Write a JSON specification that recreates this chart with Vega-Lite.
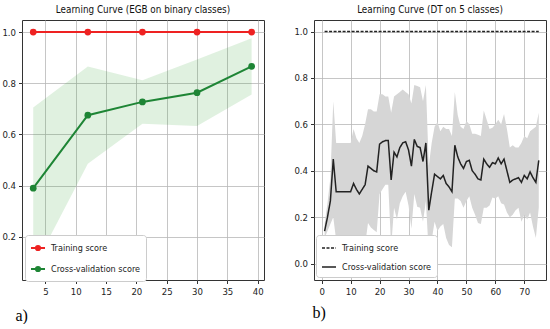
{
  "$schema": "https://vega.github.io/schema/vega-lite/v6.json",
  "background": "white",
  "padding": {"left": 1, "top": 4, "right": 0, "bottom": 0},
  "spacing": 28,
  "config": {
    "font": "Liberation Sans Narrow, DejaVu Sans Condensed, sans-serif",
    "view": {"stroke": "#333333", "strokeWidth": 1},
    "axis": {"domain": false, "tickColor": "#333333", "tickSize": 3.5, "labelFontSize": 9.5, "labelColor": "#222222", "labelPadding": 3, "labelOverlap": false, "gridColor": "#b8b8b8", "gridWidth": 0.8},
    "title": {"fontSize": 9.8, "fontWeight": "normal", "color": "#111111", "offset": 5},
    "legend": {"labelFontSize": 9, "labelColor": "#222222", "fillColor": "white", "strokeColor": "#cccccc", "padding": 5, "cornerRadius": 3, "rowPadding": 6, "labelOffset": 5}
  },
  "resolve": {"scale": {"color": "independent", "strokeDash": "independent"}, "legend": {"color": "independent", "strokeDash": "independent"}},
  "hconcat": [
    {
      "width": 242,
      "height": 260,
      "title": "Learning Curve (EGB on binary classes)",
      "data": {"values": [
        {"x": 3, "Training score": 1.0, "Cross-validation score": 0.39, "lo": 0.075, "hi": 0.705},
        {"x": 12, "Training score": 1.0, "Cross-validation score": 0.675, "lo": 0.485, "hi": 0.865},
        {"x": 21, "Training score": 1.0, "Cross-validation score": 0.727, "lo": 0.642, "hi": 0.812},
        {"x": 30, "Training score": 1.0, "Cross-validation score": 0.763, "lo": 0.633, "hi": 0.893},
        {"x": 39, "Training score": 1.0, "Cross-validation score": 0.866, "lo": 0.756, "hi": 0.976}
      ]},
      "transform": [{"fold": ["Training score", "Cross-validation score"], "as": ["series", "score"]}],
      "encoding": {
        "x": {"field": "x", "type": "quantitative", "scale": {"domain": [1.15, 41.04], "nice": false, "zero": false},
              "axis": {"tickCount": 8, "labelOverlap": false, "grid": true, "title": "a)", "titleFont": "Liberation Serif", "titleFontSize": 16, "titleFontWeight": "normal", "titleColor": "#000000", "titleAnchor": "start", "titleAlign": "left", "titleBaseline": "middle", "titleX": -7, "titleY": 35}}
      },
      "layer": [
        {
          "transform": [{"filter": "datum.series === 'Cross-validation score'"}],
          "mark": {"type": "area", "color": "#2ca02c", "opacity": 0.15},
          "encoding": {
            "y": {"field": "lo", "type": "quantitative", "scale": {"domain": [0.031, 1.047], "nice": false, "zero": false},
                  "axis": {"tickCount": 5, "labelOverlap": false, "format": ".1f", "grid": true, "title": null}},
            "y2": {"field": "hi"}
          }
        },
        {
          "mark": {"type": "line", "strokeWidth": 2, "point": {"filled": true, "size": 45}},
          "encoding": {
            "y": {"field": "score", "type": "quantitative"},
            "color": {"field": "series", "type": "nominal",
                      "scale": {"domain": ["Training score", "Cross-validation score"], "range": ["#ee2222", "#1e8535"]},
                      "legend": {"title": null, "orient": "none", "legendX": 3, "legendY": 215, "symbolType": "M-1,0H1M-0.3,0A0.3,0.3,0,1,1,0.3,0A0.3,0.3,0,1,1,-0.3,0", "symbolSize": 196, "symbolStrokeWidth": 2}}
          }
        }
      ]
    },
    {
      "width": 232,
      "height": 260,
      "title": "Learning Curve (DT on 5 classes)",
      "data": {"values": [
        {"x": 1, "Training score": 1.0, "Cross-validation score": 0.14, "lo": 0.11, "hi": 0.17},
        {"x": 2, "Training score": 1.0, "Cross-validation score": 0.20, "lo": 0.14, "hi": 0.26},
        {"x": 3, "Training score": 1.0, "Cross-validation score": 0.27, "lo": 0.17, "hi": 0.37},
        {"x": 4, "Training score": 1.0, "Cross-validation score": 0.45, "lo": 0.20, "hi": 0.70},
        {"x": 5, "Training score": 1.0, "Cross-validation score": 0.31, "lo": 0.10, "hi": 0.52},
        {"x": 6, "Training score": 1.0, "Cross-validation score": 0.31, "lo": 0.10, "hi": 0.52},
        {"x": 7, "Training score": 1.0, "Cross-validation score": 0.31, "lo": 0.10, "hi": 0.52},
        {"x": 8, "Training score": 1.0, "Cross-validation score": 0.31, "lo": 0.10, "hi": 0.52},
        {"x": 9, "Training score": 1.0, "Cross-validation score": 0.31, "lo": 0.10, "hi": 0.52},
        {"x": 10, "Training score": 1.0, "Cross-validation score": 0.31, "lo": 0.10, "hi": 0.52},
        {"x": 11, "Training score": 1.0, "Cross-validation score": 0.345, "lo": 0.11, "hi": 0.58},
        {"x": 12, "Training score": 1.0, "Cross-validation score": 0.32, "lo": 0.10, "hi": 0.54},
        {"x": 13, "Training score": 1.0, "Cross-validation score": 0.30, "lo": 0.08, "hi": 0.52},
        {"x": 14, "Training score": 1.0, "Cross-validation score": 0.32, "lo": 0.09, "hi": 0.55},
        {"x": 15, "Training score": 1.0, "Cross-validation score": 0.34, "lo": 0.08, "hi": 0.60},
        {"x": 16, "Training score": 1.0, "Cross-validation score": 0.42, "lo": 0.175, "hi": 0.665},
        {"x": 17, "Training score": 1.0, "Cross-validation score": 0.41, "lo": 0.155, "hi": 0.665},
        {"x": 18, "Training score": 1.0, "Cross-validation score": 0.40, "lo": 0.145, "hi": 0.655},
        {"x": 19, "Training score": 1.0, "Cross-validation score": 0.395, "lo": 0.135, "hi": 0.655},
        {"x": 20, "Training score": 1.0, "Cross-validation score": 0.515, "lo": 0.30, "hi": 0.73},
        {"x": 21, "Training score": 1.0, "Cross-validation score": 0.525, "lo": 0.32, "hi": 0.73},
        {"x": 22, "Training score": 1.0, "Cross-validation score": 0.53, "lo": 0.34, "hi": 0.72},
        {"x": 23, "Training score": 1.0, "Cross-validation score": 0.53, "lo": 0.34, "hi": 0.72},
        {"x": 24, "Training score": 1.0, "Cross-validation score": 0.36, "lo": 0.07, "hi": 0.65},
        {"x": 25, "Training score": 1.0, "Cross-validation score": 0.48, "lo": 0.24, "hi": 0.72},
        {"x": 26, "Training score": 1.0, "Cross-validation score": 0.46, "lo": 0.19, "hi": 0.73},
        {"x": 27, "Training score": 1.0, "Cross-validation score": 0.50, "lo": 0.26, "hi": 0.74},
        {"x": 28, "Training score": 1.0, "Cross-validation score": 0.52, "lo": 0.29, "hi": 0.75},
        {"x": 29, "Training score": 1.0, "Cross-validation score": 0.525, "lo": 0.31, "hi": 0.74},
        {"x": 30, "Training score": 1.0, "Cross-validation score": 0.49, "lo": 0.25, "hi": 0.73},
        {"x": 31, "Training score": 1.0, "Cross-validation score": 0.42, "lo": 0.15, "hi": 0.69},
        {"x": 32, "Training score": 1.0, "Cross-validation score": 0.535, "lo": 0.30, "hi": 0.77},
        {"x": 33, "Training score": 1.0, "Cross-validation score": 0.505, "lo": 0.245, "hi": 0.765},
        {"x": 34, "Training score": 1.0, "Cross-validation score": 0.50, "lo": 0.24, "hi": 0.76},
        {"x": 35, "Training score": 1.0, "Cross-validation score": 0.44, "lo": 0.18, "hi": 0.70},
        {"x": 36, "Training score": 1.0, "Cross-validation score": 0.52, "lo": 0.27, "hi": 0.77},
        {"x": 37, "Training score": 1.0, "Cross-validation score": 0.23, "lo": 0.04, "hi": 0.42},
        {"x": 38, "Training score": 1.0, "Cross-validation score": 0.31, "lo": 0.10, "hi": 0.52},
        {"x": 39, "Training score": 1.0, "Cross-validation score": 0.385, "lo": 0.18, "hi": 0.59},
        {"x": 40, "Training score": 1.0, "Cross-validation score": 0.375, "lo": 0.14, "hi": 0.61},
        {"x": 41, "Training score": 1.0, "Cross-validation score": 0.365, "lo": 0.16, "hi": 0.57},
        {"x": 42, "Training score": 1.0, "Cross-validation score": 0.38, "lo": 0.17, "hi": 0.59},
        {"x": 43, "Training score": 1.0, "Cross-validation score": 0.345, "lo": 0.11, "hi": 0.58},
        {"x": 44, "Training score": 1.0, "Cross-validation score": 0.33, "lo": 0.08, "hi": 0.58},
        {"x": 45, "Training score": 1.0, "Cross-validation score": 0.31, "lo": 0.07, "hi": 0.55},
        {"x": 46, "Training score": 1.0, "Cross-validation score": 0.51, "lo": 0.28, "hi": 0.74},
        {"x": 47, "Training score": 1.0, "Cross-validation score": 0.46, "lo": 0.28, "hi": 0.64},
        {"x": 48, "Training score": 1.0, "Cross-validation score": 0.43, "lo": 0.27, "hi": 0.59},
        {"x": 49, "Training score": 1.0, "Cross-validation score": 0.41, "lo": 0.24, "hi": 0.58},
        {"x": 50, "Training score": 1.0, "Cross-validation score": 0.44, "lo": 0.27, "hi": 0.615},
        {"x": 51, "Training score": 1.0, "Cross-validation score": 0.445, "lo": 0.29, "hi": 0.60},
        {"x": 52, "Training score": 1.0, "Cross-validation score": 0.40, "lo": 0.24, "hi": 0.56},
        {"x": 53, "Training score": 1.0, "Cross-validation score": 0.385, "lo": 0.21, "hi": 0.56},
        {"x": 54, "Training score": 1.0, "Cross-validation score": 0.365, "lo": 0.175, "hi": 0.555},
        {"x": 55, "Training score": 1.0, "Cross-validation score": 0.36, "lo": 0.17, "hi": 0.55},
        {"x": 56, "Training score": 1.0, "Cross-validation score": 0.45, "lo": 0.24, "hi": 0.66},
        {"x": 57, "Training score": 1.0, "Cross-validation score": 0.43, "lo": 0.24, "hi": 0.62},
        {"x": 58, "Training score": 1.0, "Cross-validation score": 0.415, "lo": 0.25, "hi": 0.58},
        {"x": 59, "Training score": 1.0, "Cross-validation score": 0.435, "lo": 0.285, "hi": 0.585},
        {"x": 60, "Training score": 1.0, "Cross-validation score": 0.43, "lo": 0.28, "hi": 0.60},
        {"x": 61, "Training score": 1.0, "Cross-validation score": 0.455, "lo": 0.29, "hi": 0.62},
        {"x": 62, "Training score": 1.0, "Cross-validation score": 0.43, "lo": 0.26, "hi": 0.60},
        {"x": 63, "Training score": 1.0, "Cross-validation score": 0.45, "lo": 0.255, "hi": 0.645},
        {"x": 64, "Training score": 1.0, "Cross-validation score": 0.40, "lo": 0.22, "hi": 0.58},
        {"x": 65, "Training score": 1.0, "Cross-validation score": 0.35, "lo": 0.20, "hi": 0.50},
        {"x": 66, "Training score": 1.0, "Cross-validation score": 0.36, "lo": 0.21, "hi": 0.51},
        {"x": 67, "Training score": 1.0, "Cross-validation score": 0.365, "lo": 0.23, "hi": 0.50},
        {"x": 68, "Training score": 1.0, "Cross-validation score": 0.37, "lo": 0.24, "hi": 0.50},
        {"x": 69, "Training score": 1.0, "Cross-validation score": 0.35, "lo": 0.18, "hi": 0.52},
        {"x": 70, "Training score": 1.0, "Cross-validation score": 0.38, "lo": 0.21, "hi": 0.55},
        {"x": 71, "Training score": 1.0, "Cross-validation score": 0.365, "lo": 0.19, "hi": 0.54},
        {"x": 72, "Training score": 1.0, "Cross-validation score": 0.395, "lo": 0.22, "hi": 0.57},
        {"x": 73, "Training score": 1.0, "Cross-validation score": 0.37, "lo": 0.16, "hi": 0.58},
        {"x": 74, "Training score": 1.0, "Cross-validation score": 0.35, "lo": 0.11, "hi": 0.59},
        {"x": 75, "Training score": 1.0, "Cross-validation score": 0.445, "lo": 0.24, "hi": 0.65}
      ]},
      "transform": [{"fold": ["Training score", "Cross-validation score"], "as": ["series", "score"]}],
      "encoding": {
        "x": {"field": "x", "type": "quantitative", "scale": {"domain": [-2.66, 77.5], "nice": false, "zero": false},
              "axis": {"tickCount": 8, "labelOverlap": false, "title": "b)", "titleFont": "Liberation Serif", "titleFontSize": 16, "titleFontWeight": "normal", "titleColor": "#000000", "titleAnchor": "start", "titleAlign": "left", "titleBaseline": "middle", "titleX": -2, "titleY": 32}}
      },
      "layer": [
        {
          "transform": [{"filter": "datum.series === 'Cross-validation score'"}],
          "mark": {"type": "area", "color": "#d6d6d6", "opacity": 1},
          "encoding": {
            "y": {"field": "lo", "type": "quantitative", "scale": {"domain": [-0.071, 1.05], "nice": false, "zero": false},
                  "axis": {"tickCount": 6, "labelOverlap": false, "format": ".1f", "title": null}},
            "y2": {"field": "hi"}
          }
        },
        {
          "mark": {"type": "line", "color": "#222222", "strokeWidth": 1.5},
          "encoding": {
            "y": {"field": "score", "type": "quantitative"},
            "strokeDash": {"field": "series", "type": "nominal",
                      "scale": {"domain": ["Training score", "Cross-validation score"], "range": [[3, 1.5], [1, 0]]},
                      "legend": {"title": null, "orient": "none", "legendX": 2, "legendY": 215, "symbolSize": 196, "symbolStrokeWidth": 1.6, "symbolStrokeColor": "#222222"}}
          }
        }
      ]
    }
  ]
}
